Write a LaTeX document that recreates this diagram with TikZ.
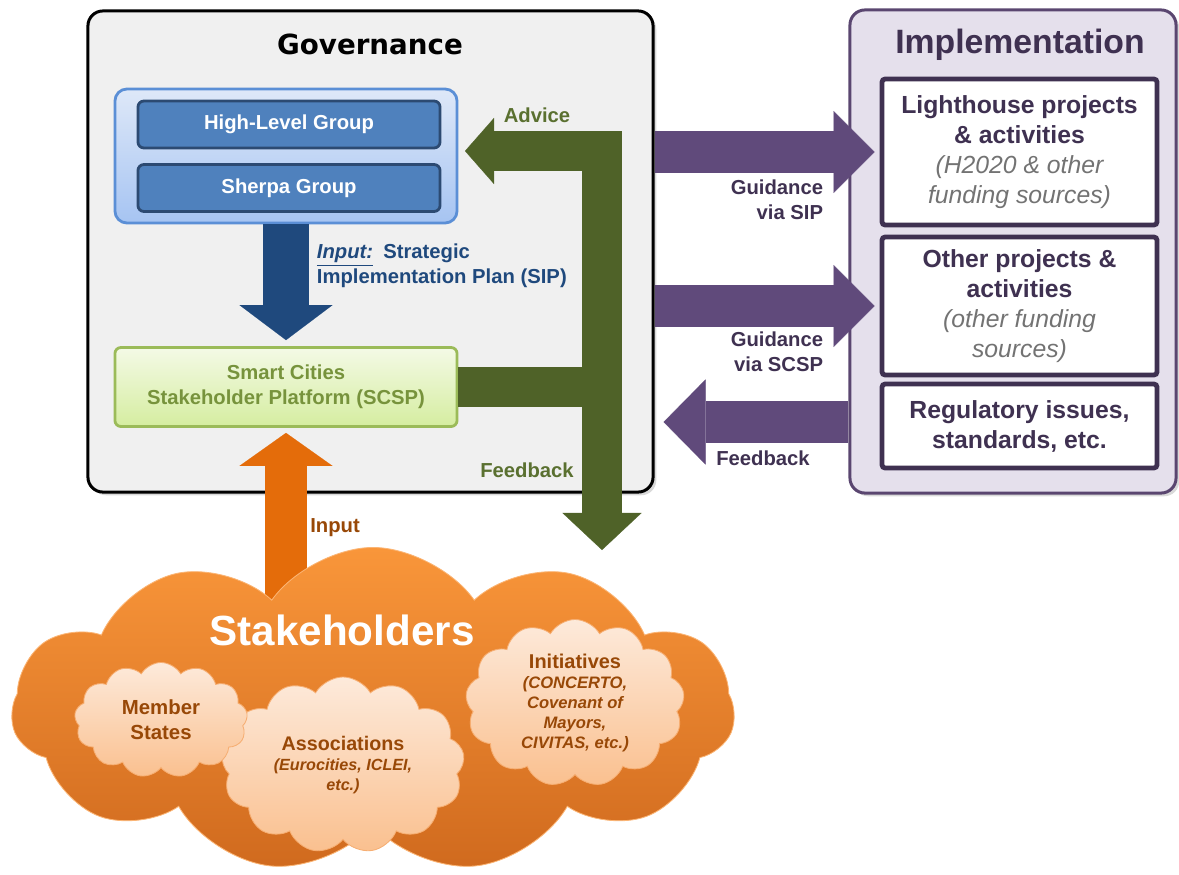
\documentclass[tikz,border=0pt]{standalone}
\usepackage{fontspec}
\setmainfont{Liberation Sans}
\newfontfamily\dejavu{DejaVu Sans}
\usetikzlibrary{arrows.meta,shapes.symbols,shadows,calc}

\definecolor{govfill}{HTML}{F0F0F0}
\definecolor{bluetop}{HTML}{DEE8F8}
\definecolor{bluebot}{HTML}{A6C4F2}
\definecolor{blueline}{HTML}{5B8FD6}
\definecolor{bluemid}{HTML}{4F81BD}
\definecolor{bluedark}{HTML}{1F497D}
\definecolor{boxedge}{HTML}{2C4A72}
\definecolor{limetop}{HTML}{F4FAE6}
\definecolor{limebot}{HTML}{D5EDA0}
\definecolor{limeline}{HTML}{9BBB59}
\definecolor{limetext}{HTML}{77933C}
\definecolor{olive}{HTML}{4F6228}
\definecolor{olivetext}{HTML}{5A7030}
\definecolor{purp}{HTML}{604A7B}
\definecolor{purpdark}{HTML}{3F3151}
\definecolor{purpline}{HTML}{5A4670}
\definecolor{lavender}{HTML}{E5E0EC}
\definecolor{srcgray}{HTML}{737373}
\definecolor{orangearr}{HTML}{E46C0A}
\definecolor{cloudtop}{HTML}{F9963A}
\definecolor{cloudbot}{HTML}{D06A1E}
\definecolor{pufftop}{HTML}{FDEADB}
\definecolor{puffbot}{HTML}{FAC08F}
\definecolor{puffline}{HTML}{F6AE72}
\definecolor{brownish}{HTML}{984807}

\newcommand\fs[2]{\fontsize{#1}{#2}\selectfont}
\newcommand\src[1]{{\mdseries\itshape\color{srcgray}#1}}

\tikzset{
  panel/.style={draw, rounded corners=.375cm, line width=.075cm},
  member/.style={draw=boxedge, fill=bluemid, rounded corners=.15cm, line width=.07cm,
    minimum width=7.55cm, minimum height=1.175cm, text=white, font=\fs{14.4}{17}\bfseries},
  impbox/.style={draw=purpdark, fill=white, rounded corners=.08cm, line width=.12cm,
    minimum width=6.875cm, align=center, text=purpdark, font=\fs{17.6}{21.3}\bfseries},
  note/.style={font=\fs{14.4}{17.8}\bfseries, align=left},
  puffcloud/.style={cloud, cloud puffs=13, cloud puff arc=120, cloud ignores aspect,
    draw=puffline, line width=.6pt, top color=pufftop, bottom color=puffbot,
    text=brownish, align=center, inner sep=0pt},
}

\begin{document}
\begin{tikzpicture}[x=0.025cm, y=-0.025cm]
  \useasboundingbox (0,0) rectangle (1179,875);

  % governance side
  \node[panel, fill=govfill, minimum width=14.125cm, minimum height=12.025cm,
    drop shadow={shadow xshift=.08cm, shadow yshift=-.08cm, opacity=.3}] (gov) at (370.5,251.5) {};
  \node[font=\dejavu\fs{19.7}{24}\bfseries] (govtitle) at (370,44) {Governance};
  \node[draw=blueline, line width=.07cm, rounded corners=.3cm, top color=bluetop, bottom color=bluebot,
    minimum width=8.55cm, minimum height=3.35cm] (grp) at (286,156) {};
  \node[member] (hlg) at (289,124.5) {High-Level Group};
  \node[member] (sherpa) at (289,188) {Sherpa Group};
  \node[draw=limeline, line width=.07cm, rounded corners=.15cm, top color=limetop, bottom color=limebot,
    minimum width=8.55cm, minimum height=1.975cm, align=center, text=limetext,
    font=\fs{14.4}{17.8}\bfseries] (scsp) at (286,387) {Smart Cities\\Stakeholder Platform (SCSP)};
  \node[note, text=bluedark, anchor=west] (sipnote) at (312,266)
    {\underline{\textit{Input:}}\enspace Strategic\\Implementation Plan (SIP)};

  % implementation side
  \node[draw=purpline, fill=lavender, rounded corners=.375cm, line width=.075cm,
    minimum width=8.15cm, minimum height=12.075cm,
    drop shadow={shadow xshift=.08cm, shadow yshift=-.08cm, opacity=.3}] (impl) at (1013,251.5) {};
  \node[text=purpdark, font=\fs{24}{28}\bfseries] (impltitle) at (1020,45) {Implementation};
  \node[impbox, minimum height=3.65cm] (light) at (1019.5,152)
    {Lighthouse projects\\\& activities\\\src{(H2020 \& other}\\\src{funding sources)}};
  \node[impbox, minimum height=3.45cm] (other) at (1019.5,306)
    {Other projects \&\\activities\\\src{(other funding}\\\src{sources)}};
  \node[impbox, minimum height=2.1cm] (reg) at (1019.5,426)
    {Regulatory issues,\\standards, etc.};

  % block arrows
  \draw[bluedark, line width=1.15cm, -{Triangle[length=.875cm, width=2.325cm, line width=.1pt]}]
    (grp.south) -- ($(scsp.north)+(0,-6)$);
  \coordinate (advtip) at (465,151);
  \coordinate (fbtip) at (602,550);
  \draw[olive, line width=1cm] (scsp.east) -- (scsp.east -| fbtip);
  \draw[olive, line width=1cm,
    {Triangle[length=.725cm, width=1.65cm, line width=.1pt]}-{Triangle[length=.925cm, width=1.975cm, line width=.1pt]}]
    (advtip) -| (fbtip);
  \draw[purp, line width=1.05cm, -{Triangle[length=1.025cm, width=2.05cm, line width=.1pt]}]
    (gov.east |- light.west) -- ($(light.west)+(-5,0)$);
  \draw[purp, line width=1.05cm, -{Triangle[length=1.025cm, width=2.05cm, line width=.1pt]}]
    (gov.east |- other.west) -- ($(other.west)+(-5,0)$);
  \draw[purp, line width=1.05cm, -{Triangle[length=1.05cm, width=2.125cm, line width=.1pt]}]
    ($(impl.west |- reg.west)+(0,-4)$) -- ($(gov.east |- reg.west)+(9,-4)$);
  \coordinate (inpt) at (286,620);
  \draw[orangearr, line width=1.025cm, -{Triangle[length=.825cm, width=2.325cm, line width=.1pt]}]
    (inpt) -- ($(scsp.south)+(0,5)$);

  % arrow labels
  \node[note, text=olivetext] (advice) at (537,115) {Advice};
  \node[note, text=olivetext] (fbgreen) at (527,470) {Feedback};
  \node[note, text=brownish] (inlabel) at (335,528) {Input};
  \node[note, text=purpdark, anchor=east, align=right] (gsip) at (828,200) {Guidance\\via SIP};
  \node[note, text=purpdark, anchor=east, align=right] (gscsp) at (828,352) {Guidance\\via SCSP};
  \node[note, text=purpdark] (fbpurp) at (763,458) {Feedback};

  % stakeholders
  \node[cloud, cloud puffs=11, cloud puff arc=110, cloud ignores aspect, draw=cloudtop!70!white,
    line width=.6pt, top color=cloudtop, bottom color=cloudbot,
    minimum width=18.075cm, minimum height=8.125cm] (stake) at (373,710) {};
  \node[text=white, font=\fs{30}{36}\bfseries] (staketitle) at (342,630) {Stakeholders};
  \node[puffcloud, minimum width=6.075cm, minimum height=4.4cm,
    font=\fs{11.5}{14.5}\bfseries\itshape] (assoc) at (343,765)
    {{\upshape\fs{14}{14.5}Associations}\\(Eurocities, ICLEI,\\etc.)};
  \node[puffcloud, minimum width=4.325cm, minimum height=2.875cm,
    font=\fs{14.5}{17.8}\bfseries] (states) at (161,720) {Member\\States};
  \node[puffcloud, minimum width=5.475cm, minimum height=4.175cm,
    font=\fs{11.8}{14.2}\bfseries\itshape] (init) at (575,703)
    {{\upshape\fs{14.2}{14.2}Initiatives}\\(CONCERTO,\\Covenant of\\Mayors,\\CIVITAS, etc.)};
\end{tikzpicture}
\end{document}
